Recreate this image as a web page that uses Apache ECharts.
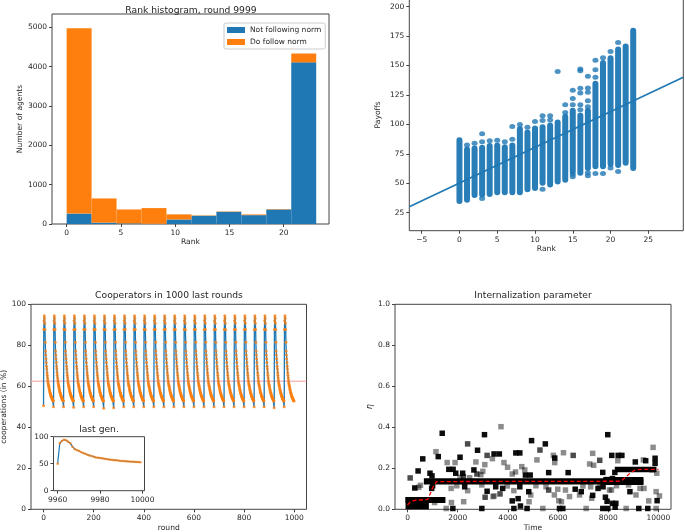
<!DOCTYPE html>
<html><head><meta charset="utf-8">
<script src="https://cdn.jsdelivr.net/npm/echarts@6/dist/echarts.min.js"></script>
<style>html,body{margin:0;padding:0;background:#fff}#c{width:685px;height:532px}</style>
</head><body><div id="c"></div>
<script>
// ---------- Top-left: stacked rank histogram ----------
const binEdges = [0, 2.3, 4.6, 6.9, 9.2, 11.5, 13.8, 16.1, 18.4, 20.7, 23];
const notFollowing = [265, 35, 15, 5, 115, 210, 310, 225, 370, 4110];
const doFollow = [4710, 615, 355, 400, 130, 10, 10, 18, 10, 225];
const histXTicks = [0, 5, 10, 15, 20];
const histYTicks = [0, 1000, 2000, 3000, 4000, 5000];

// ---------- Top-right: payoffs vs rank ----------
const colRanks = [0,1,2,3,4,5,6,7,8,9,10,11,12,13,14,15,16,17,18,19,20,21,22,23];
const colLow  = [34.5,35.5,39.5,40,40.5,42,42,42,42,44.5,45.5,50,48.5,51,52.5,59.5,58.5,62.5,64,64,66,65,67,62.5];
const colHigh = [87,79,80,80.5,82,82.5,81,82.5,96.5,93.5,97,98,99.5,102,107,112,108,112,135,152.5,156.5,164,166.5,180];
const outlierRank = [1,2,3,3,3,4,5,6,7,7,8,9,10,11,11,11,12,12,13,14,14,15,15,15,15,15,16,16,16,16,16,16,17,17,17,17,17,17,17,18,18,18,18,19,19,20,20,21,21];
const outlierPay  = [82.5,84,92,85.3,37,86,86.5,85.3,98.2,87.3,100,97.6,102.4,107.3,103.3,45,107.3,103.8,145,116.7,110,129,122,116.7,57.7,55.5,147,145.5,130.6,126.6,116.7,112.4,140.9,130.9,127.2,120,115,58.9,56.3,154.5,146.5,140,58.3,156.5,58.3,162,63,169.5,60];
const regX = [-6.64, 29.63];
const regY = [30, 140];
const payXTicks = [-5, 0, 5, 10, 15, 20, 25];
const payYTicks = [25, 50, 75, 100, 125, 150, 175, 200];

// ---------- Bottom-left: cooperators ----------
const lastGenStart = 9960;
const lastGen = [50,87.7,92,94.4,93.2,90.7,87.7,81.5,77.2,75.3,73.5,71.6,69.8,68.5,66.7,65.4,64.2,63,61.7,61.1,60.5,59.9,59.3,58.6,58,57.4,56.8,56.5,56.2,55.6,55.2,54.9,54.6,54.3,54,53.7,53.4,53.1,53,52.8];
const cycleStarts = [0,40,80,120,160,200,240,280,320,360,400,440,480,520,560,600,640,680,720,760,800,840,880,920,960];
const cycleLows = [50.5,50,50,49.8,50,50,49.3,49.5,50,50,50,50,50,50,50,50,50,50,50,50,50,50,50,49.5,50];
const refLevel = 62.5;
const coopXRange = [-49.95, 1048.95];
const coopXTicks = [0,200,400,600,800,1000];
const coopYTicks = [0,20,40,60,80,100];
const insetXTicks = [9960, 9980, 10000];
const insetYTicks = [0, 50, 100];

// ---------- Bottom-right: internalization ----------
// dense bands of overlapping squares: [tStart, tEnd, etaLow, etaHigh]
const bandT0 = [-80, -80, 650, 7800, 8260];
const bandT1 = [1510, 850, 9400, 9400, 9920];
const bandE0 = [0.031, 0.0, 0.121, 0.118, 0.181];
const bandE1 = [0.06, 0.06, 0.151, 0.157, 0.207];
// individual squares: time, eta, alpha
const ptT = [1382,3724,3066,2395,2790,1132,1224,2092,3171,3448,3658,4316,4474,605,1579,1895,2724,3079,3382,3843,3987,4553,4671,421,105,895,974,1645,1816,1921,2197,2224,2645,2764,2921,3000,2474,2092,4172,4303,4698,289,447,513,961,1000,1737,1961,2277,2395,2961,3171,3514,3448,3685,3790,3974,4238,4172,4408,4474,4830,4909,1079,1750,2237,3092,3408,4500,4843,1540,2961,4238,4764,1806,
  7980,4943,5491,5277,5812,5866,5866,6214,6602,7378,8140,8395,8542,5157,7257,7418,7659,8381,9786,9398,9077,9492,9866,9866,9746,9933,4888,5625,6401,7779,8261,7967,8167,5117,5518,5625,5986,6294,6682,6923,6990,7298,7592,7672,7793,8047,8127,8328,8863,8809,9264,9425,9907,10040,9612,9947,5852,6026,6133,6455,7378,7886,7953,8167,8301,8274,6856,7338,9104,5392,6056,6189,7118,7782,7981,8712,9217,9575,9907];
const ptEta = [0.371,0.403,0.364,0.319,0.288,0.281,0.257,0.254,0.263,0.27,0.27,0.275,0.275,0.246,0.228,0.228,0.231,0.218,0.247,0.228,0.205,0.208,0.192,0.187,0.153,0.176,0.163,0.195,0.195,0.176,0.176,0.159,0.192,0.172,0.169,0.185,0.154,0.156,0.172,0.182,0.167,0.104,0.107,0.117,0.102,0.115,0.102,0.115,0.11,0.091,0.119,0.088,0.11,0.065,0.075,0.102,0.114,0.091,0.041,0.052,0.11,0.086,0.07,0.033,0.033,0.037,0.059,0.062,0.016,0.037,0.004,0.004,0.004,0.004,0.004,
  0.364,0.335,0.319,0.289,0.263,0.25,0.228,0.276,0.263,0.273,0.263,0.263,0.263,0.241,0.221,0.215,0.239,0.237,0.302,0.241,0.231,0.237,0.249,0.224,0.192,0.176,0.167,0.179,0.179,0.18,0.18,0.146,0.15,0.115,0.11,0.094,0.098,0.094,0.098,0.086,0.114,0.11,0.102,0.114,0.11,0.094,0.094,0.115,0.086,0.119,0.102,0.102,0.086,0.065,0.041,0.042,0.07,0.042,0.037,0.062,0.068,0.059,0.039,0.029,0.029,0.01,0.07,0.054,0.07,0.004,0.004,0.004,0.004,0.004,0.004,0.004,0.004,0.004,0.004];
const ptAlpha = [0.95,0.45,0.95,0.7,0.95,0.45,0.95,0.95,0.7,0.95,0.95,0.95,0.95,0.95,0.45,0.45,0.45,0.45,0.45,0.45,0.45,0.45,0.45,0.95,0.7,0.95,0.95,0.95,0.95,0.95,0.95,0.7,0.95,0.7,0.45,0.45,0.45,0.45,0.45,0.45,0.95,0.95,0.45,0.45,0.95,0.95,0.45,0.45,0.95,0.45,0.45,0.95,0.95,0.45,0.7,0.95,0.45,0.45,0.95,0.95,0.95,0.95,0.45,0.45,0.45,0.45,0.7,0.45,0.95,0.45,0.45,0.95,0.95,0.95,0.95,
  0.95,0.95,0.95,0.7,0.45,0.95,0.45,0.45,0.7,0.45,0.95,0.95,0.95,0.45,0.45,0.45,0.7,0.45,0.45,0.45,0.95,0.95,0.95,0.95,0.45,0.45,0.95,0.95,0.95,0.95,0.95,0.45,0.95,0.45,0.45,0.7,0.45,0.45,0.95,0.95,0.45,0.45,0.95,0.45,0.95,0.45,0.45,0.45,0.95,0.45,0.45,0.45,0.45,0.45,0.45,0.95,0.45,0.45,0.45,0.45,0.95,0.95,0.95,0.95,0.95,0.95,0.45,0.45,0.45,0.45,0.95,0.95,0.45,0.95,0.95,0.45,0.95,0.95,0.45];
const meanT = [0,100,250,400,800,900,1000,1100,1150,3000,6000,8500,8700,8900,9100,9300,10000];
const meanEta = [0.021,0.035,0.042,0.045,0.048,0.075,0.105,0.125,0.135,0.136,0.136,0.137,0.157,0.18,0.193,0.195,0.195];
const intXTicks = [0,2000,4000,6000,8000,10000];
const intYTicks = [0,0.2,0.4,0.6,0.8,1.0];

// ---------- build ----------
const FONT = 'DejaVu Sans';
const TXT = '#262626';
const BLUE = '#1f77b4', ORANGE = '#ff7f0e';

function axis(gi, min, max, ticks, fmt, name, gap, extra) {
  return Object.assign({
    type: 'value', gridIndex: gi, min: min, max: max,
    name: name, nameLocation: 'middle', nameGap: gap,
    nameTextStyle: {fontFamily: FONT, fontSize: 7.6, color: TXT},
    axisLine: {show: false, onZero: false},
    axisTick: {show: true, inside: false, length: 3, lineStyle: {color: '#444', width: 1}, customValues: ticks},
    axisLabel: {show: true, customValues: ticks, formatter: fmt, fontFamily: FONT, fontSize: 7.5, color: TXT, margin: 5, hideOverlap: false},
    splitLine: {show: false}
  }, extra || {});
}
const gridBase = {show: true, borderColor: '#444', borderWidth: 1, backgroundColor: 'transparent', containLabel: false, outerBoundsMode: 'none'};
const grids = [
  Object.assign({}, gridBase, {left: 52, top: 14, width: 277, height: 210}),
  Object.assign({}, gridBase, {left: 409.3, top: -1, width: 274, height: 231.7}),
  Object.assign({}, gridBase, {left: 31, top: 304.3, width: 275.5, height: 205}),
  Object.assign({}, gridBase, {left: 53.5, top: 436.7, width: 91, height: 54, backgroundColor: '#fff', z: 5}),
  Object.assign({}, gridBase, {left: 395, top: 304.3, width: 276, height: 205})
];
const num = v => String(v);
const minusFmt = v => (v < 0 ? '\u2212' + Math.abs(v) : String(v));
const oneDec = v => v.toFixed(1);

const xAxes = [
  axis(0, -1.35, 24.18, histXTicks, num, 'Rank', 14),
  axis(1, -6.64, 29.63, payXTicks, minusFmt, 'Rank', 14),
  axis(2, coopXRange[0], coopXRange[1], coopXTicks, num, 'round', 15),
  axis(3, 9958.05, 10000.95, insetXTicks, num, '', 10, {z: 6}),
  axis(4, -500, 10500, intXTicks, num, 'Time', 15)
];
const yAxes = [
  axis(0, 0, 5340, histYTicks, num, 'Number of agents', 27),
  axis(1, 9.7, 206.5, payYTicks, num, 'Payoffs', 27),
  axis(2, 0, 100, coopYTicks, num, 'cooperations (in %)', 22),
  axis(3, 0, 100, insetYTicks, num, '', 10, {z: 6}),
  axis(4, 0, 1, intYTicks, oneDec, '\u03b7', 19, {nameTextStyle: {fontFamily: FONT, fontSize: 8, color: TXT, fontStyle: 'italic'}})
];

function histRender(color) {
  return function (params, api) {
    const p0 = api.coord([api.value(0), api.value(3)]);
    const p1 = api.coord([api.value(1), api.value(2)]);
    return {type: 'rect', shape: {x: p0[0], y: p0[1], width: p1[0] - p0[0], height: p1[1] - p0[1]}, style: {fill: color}};
  };
}
const blueBars = notFollowing.map((v, i) => [binEdges[i], binEdges[i + 1], 0, v]);
const orangeBars = doFollow.map((v, i) => [binEdges[i], binEdges[i + 1], notFollowing[i], notFollowing[i] + v]);

const columns = colRanks.map((r, i) => [r, colLow[i], colHigh[i]]);
const outliers = outlierRank.map((r, i) => [r, outlierPay[i]]);

const mainSeries = [];
cycleStarts.forEach((s, c) => {
  lastGen.forEach((v, k) => mainSeries.push([s + k, k === 0 ? cycleLows[c] : v]));
});
const insetSeries = lastGen.map((v, k) => [lastGenStart + k, v]);
const refLine = coopXRange.map(x => [x, refLevel]);

const bands = bandT0.map((t, i) => [t, bandT1[i], bandE0[i], bandE1[i]]);
const pts = ptT.map((t, i) => ({value: [t, ptEta[i]], itemStyle: {opacity: ptAlpha[i]}}));
const meanLine = meanT.map((t, i) => [t, meanEta[i]]);

const titleStyle = {fontFamily: FONT, fontSize: 9.2, fontWeight: 'normal', color: TXT};
const option = {
  animation: false,
  backgroundColor: '#fff',
  title: [
    {text: 'Rank histogram, round 9999', left: 191, top: 6, textAlign: 'center', padding: 0, textStyle: titleStyle},
    {text: 'Cooperators in 1000 last rounds', left: 169, top: 291, textAlign: 'center', padding: 0, textStyle: titleStyle},
    {text: 'last gen.', left: 99, top: 425, textAlign: 'center', padding: 0, textStyle: titleStyle},
    {text: 'Internalization parameter', left: 533, top: 291, textAlign: 'center', padding: 0, textStyle: titleStyle}
  ],
  legend: {
    left: 224, top: 23, orient: 'vertical', icon: 'rect', itemWidth: 18, itemHeight: 6, itemGap: 4,
    padding: [3, 4, 3, 3], borderColor: '#ccc', borderWidth: 1, borderRadius: 2, backgroundColor: 'rgba(255,255,255,0.8)',
    textStyle: {fontFamily: FONT, fontSize: 7.5, color: TXT}, selectedMode: false,
    data: ['Not following norm', 'Do follow norm']
  },
  grid: grids,
  xAxis: xAxes,
  yAxis: yAxes,
  series: [
    {type: 'custom', name: 'Not following norm', xAxisIndex: 0, yAxisIndex: 0, data: blueBars, encode: {x: [0, 1], y: [2, 3]}, itemStyle: {color: BLUE}, renderItem: histRender(BLUE)},
    {type: 'custom', name: 'Do follow norm', xAxisIndex: 0, yAxisIndex: 0, data: orangeBars, encode: {x: [0, 1], y: [2, 3]}, itemStyle: {color: ORANGE}, renderItem: histRender(ORANGE)},
    {type: 'custom', xAxisIndex: 1, yAxisIndex: 1, data: columns, encode: {x: 0, y: [1, 2]},
      renderItem: function (params, api) {
        const top = api.coord([api.value(0), api.value(2)]);
        const bot = api.coord([api.value(0), api.value(1)]);
        return {type: 'rect', shape: {x: top[0] - 3, y: top[1] - 2.5, width: 6, height: bot[1] - top[1] + 5, r: 3}, style: {fill: BLUE, opacity: 0.95}};
      }},
    {type: 'scatter', xAxisIndex: 1, yAxisIndex: 1, data: outliers, symbol: 'circle', symbolSize: [6, 5], itemStyle: {color: BLUE, opacity: 0.8}},
    {type: 'line', xAxisIndex: 1, yAxisIndex: 1, data: regX.map((x, i) => [x, regY[i]]), showSymbol: false, lineStyle: {color: BLUE, width: 1.6}, z: 4},
    {type: 'line', xAxisIndex: 2, yAxisIndex: 2, data: refLine, showSymbol: false, lineStyle: {color: '#f29b9b', width: 1}, itemStyle: {color: '#f29b9b'}, z: 1},
    {type: 'line', xAxisIndex: 2, yAxisIndex: 2, data: mainSeries, showSymbol: false, lineStyle: {color: BLUE, width: 1.3}, z: 2},
    {type: 'scatter', xAxisIndex: 2, yAxisIndex: 2, data: mainSeries, symbol: 'circle', symbolSize: 3, itemStyle: {color: ORANGE}, z: 3},
    {type: 'line', xAxisIndex: 3, yAxisIndex: 3, data: insetSeries, showSymbol: false, lineStyle: {color: BLUE, width: 1.2}, z: 6},
    {type: 'scatter', xAxisIndex: 3, yAxisIndex: 3, data: insetSeries, symbol: 'circle', symbolSize: 2.5, itemStyle: {color: ORANGE}, z: 7},
    {type: 'custom', xAxisIndex: 4, yAxisIndex: 4, data: bands, encode: {x: [0, 1], y: [2, 3]}, z: 2,
      renderItem: function (params, api) {
        const p0 = api.coord([api.value(0), api.value(3)]);
        const p1 = api.coord([api.value(1), api.value(2)]);
        return {type: 'rect', shape: {x: p0[0], y: p0[1], width: p1[0] - p0[0], height: p1[1] - p0[1]}, style: {fill: '#000'}};
      }},
    {type: 'scatter', xAxisIndex: 4, yAxisIndex: 4, data: pts, symbol: 'rect', symbolSize: 5.5, itemStyle: {color: '#000'}, z: 3},
    {type: 'line', xAxisIndex: 4, yAxisIndex: 4, data: meanLine, showSymbol: false, lineStyle: {color: '#ff0000', width: 1.3, type: [4, 2.5]}, z: 5}
  ]
};
const chart = echarts.init(document.getElementById('c'), null, {renderer: 'canvas'});
chart.setOption(option);
</script></body></html>
